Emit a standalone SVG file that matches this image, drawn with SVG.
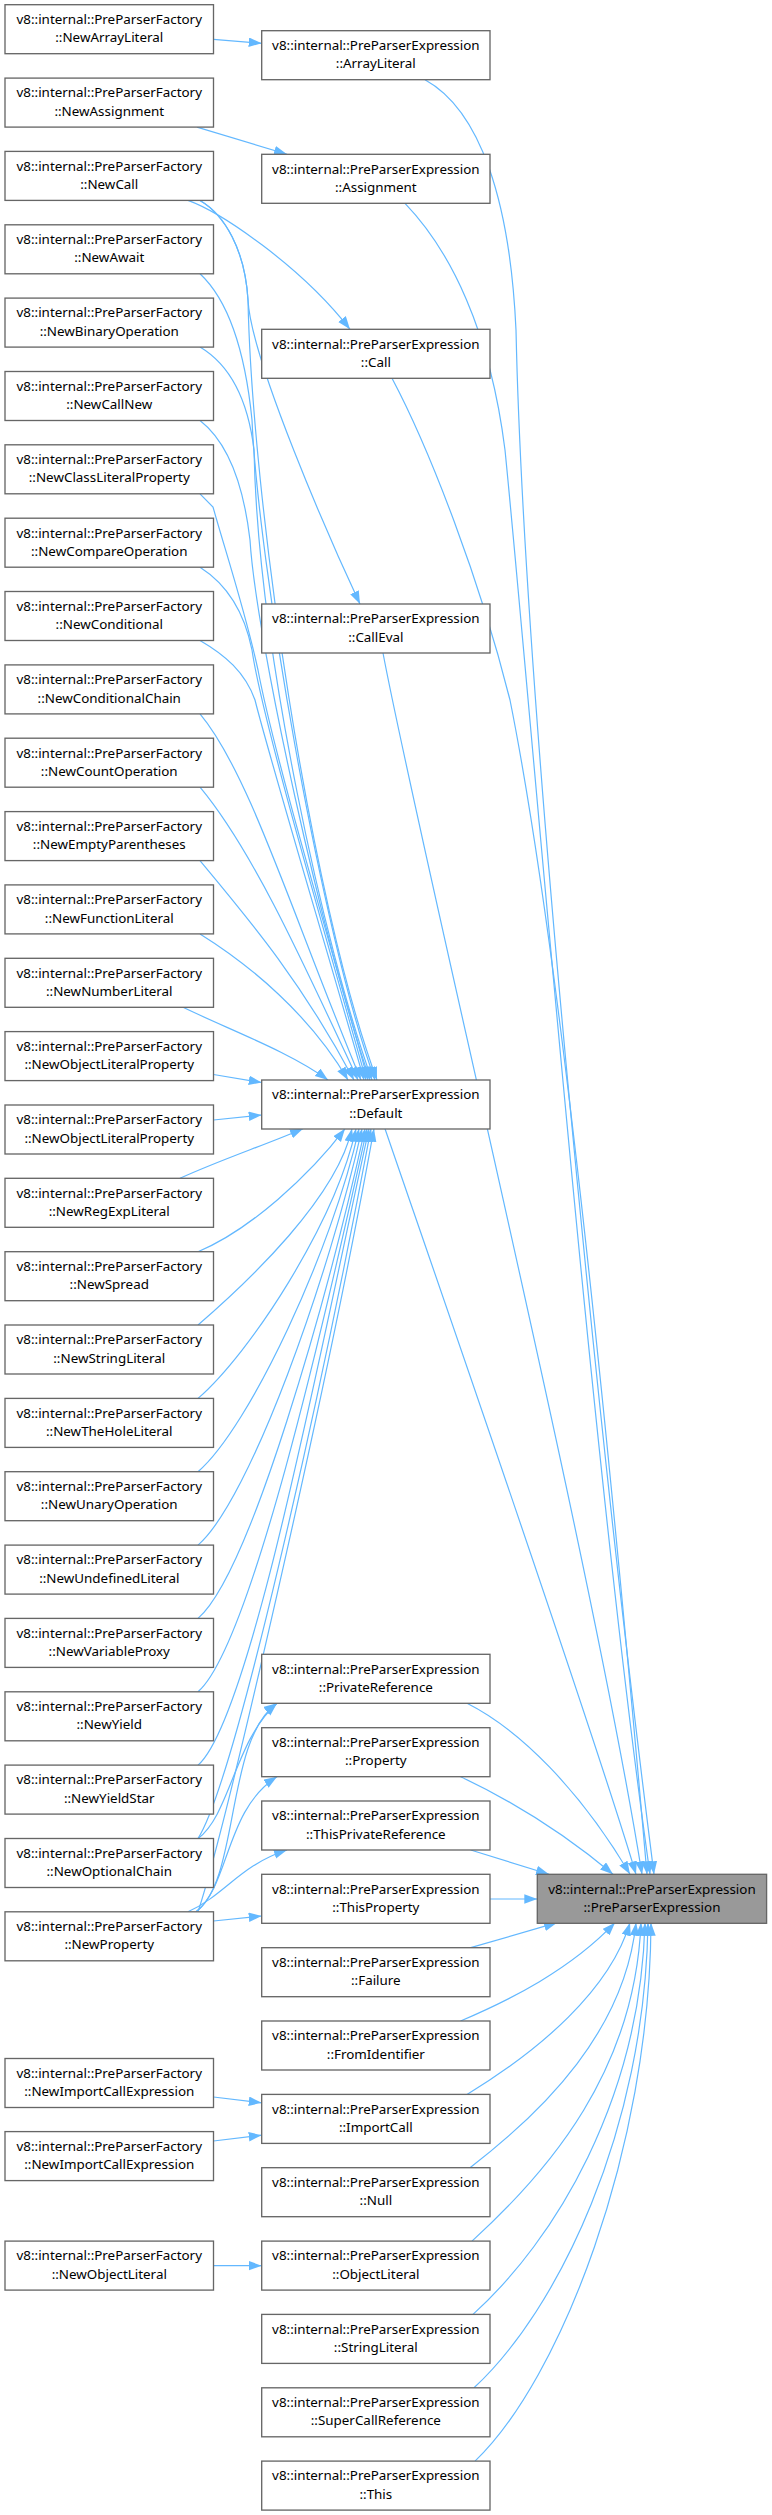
<svg xmlns="http://www.w3.org/2000/svg" width="772" height="2515" viewBox="0 0 772 2515">
<style>
.n rect{fill:#ffffff;stroke:#666666;stroke-width:1.33}
.n.tg rect{fill:#999999}
.t{font-family:"Noto Sans","Open Sans",sans-serif;font-size:13.4px;text-anchor:middle;fill:#000000}
.e path{fill:none;stroke:#63b8ff;stroke-width:1.2;marker-end:url(#ah)}
</style>
<defs>
<marker id="ah" markerWidth="14" markerHeight="10" refX="13" refY="4.75" orient="auto" markerUnits="userSpaceOnUse">
<path d="M0,0 L13,4.75 L0,9.5 z" fill="#63b8ff"/>
</marker>
</defs>
<rect width="772" height="2515" fill="#ffffff"/>
<g id="edges" class="e">
<path d="M213.5,39.3 L261.7,43.3"/>
<path d="M197,127.1 L287,154.3"/>
<path d="M188,200.4 C220,212 300,265 350,329.3"/>
<path d="M200,200.4 C225,215 245,250 248,300 C251,360 330,540 360,604"/>
<path d="M200,200.4 C225,215 245,250 248,300 C252,500 310,900 377,1080"/>
<path d="M200,273.8 C228,300 245,350 252,420 C258,560 320,930 375,1080"/>
<path d="M200,347.1 C230,365 248,400 254,450 C258,650 325,950 372,1080"/>
<path d="M200,420.5 C225,440 243,480 250,540 C256,640 325,950 370,1080"/>
<path d="M200,493.8 L213,507 C225,550 245,610 258,670 C275,760 335,960 368,1080"/>
<path d="M200,567.2 C228,585 245,615 252,650 C262,720 330,950 366,1080"/>
<path d="M200,640.5 C225,655 245,672 255,700 C270,760 330,960 364,1080"/>
<path d="M200,713.9 C250,773.9 292.3,915.3 361,1080"/>
<path d="M200,787.2 C250,847.2 296.8,948.2 358,1080"/>
<path d="M200,860.6 C250,920.6 301.4,981.3 354,1080"/>
<path d="M200,933.9 C250,965 310,1015 348,1080"/>
<path d="M183,1007.3 C230,1030 290,1052 328,1080"/>
<path d="M213.5,1074.5 L261.7,1082.5"/>
<path d="M213.5,1120 L261.7,1115"/>
<path d="M180,1178.3 C220,1160 265,1145 303,1128.7"/>
<path d="M198,1251.7 C250,1230 310,1175 345,1128.7"/>
<path d="M198,1325 C250,1280 336.9,1197.4 352,1128.7"/>
<path d="M198,1398.4 C250,1353.4 335.2,1223.1 356,1128.7"/>
<path d="M198,1471.7 C250,1426.7 332.6,1248.7 359,1128.7"/>
<path d="M198,1545.1 C250,1500.1 329.9,1274.4 362,1128.7"/>
<path d="M198,1618.4 C250,1573.4 327.3,1300.1 365,1128.7"/>
<path d="M198,1691.8 C250,1646.8 323.6,1325.8 367,1128.7"/>
<path d="M198,1765.1 C250,1720.1 320,1351.4 369,1128.7"/>
<path d="M198,1838.5 C235,1780 320,1400 371,1128.7"/>
<path d="M198,1911.8 C225,1830 325,1400 374,1128.7"/>
<path d="M198,1838.5 C230,1815 235,1740 277,1703.3"/>
<path d="M196,1911.8 C240,1880 225,1740 277,1703.3"/>
<path d="M196,1911.8 C230,1885 225,1810 277,1776.7"/>
<path d="M188,1911.8 C225,1895 240,1865 287,1850"/>
<path d="M213.5,1921 L261.7,1916"/>
<path d="M213.5,2097 L261.7,2102.8"/>
<path d="M213.5,2141 L261.7,2135.2"/>
<path d="M213.5,2265.7 L261.7,2265.7"/>
<path d="M425,79.7 C480,110 510,200 516,330 C524,700 600,1450 654,1874.3"/>
<path d="M405,203.3 C450,250 490,330 505,450 C530,700 590,1450 650,1874.3"/>
<path d="M392,378.3 C430,450 480,580 510,700 C560,950 610,1450 647,1874.3"/>
<path d="M383,653 C420,850 590,1550 642,1874.3"/>
<path d="M385,1128.7 C430,1260 590,1720 636,1874.3"/>
<path d="M467,1703.3 C520,1730 580,1790 630,1874.3"/>
<path d="M460.6,1776.7 C510,1800 560,1830 613,1874.3"/>
<path d="M470.7,1850 L549,1874.3"/>
<path d="M490,1899 L537.3,1899"/>
<path d="M470.7,1947.7 L557,1922.7"/>
<path d="M460.6,2021 C510,2000 570,1970 615,1922.7"/>
<path d="M467,2094.4 C540,2050 610,1990 630,1922.7"/>
<path d="M470,2167.7 C545,2110 625,2030 636,1922.7"/>
<path d="M472,2241.1 C550,2170 635,2070 641,1922.7"/>
<path d="M473,2314.4 C555,2240 640,2100 645,1922.7"/>
<path d="M474,2387.8 C558,2310 645,2130 648,1922.7"/>
<path d="M475,2461.1 C560,2380 650,2150 651,1922.7"/>
</g>
<g id="f_NewArrayLiteral" class="n"><rect x="5" y="4.7" width="208.5" height="49"/><text class="t" x="109.25" y="24">v8::internal::PreParserFactory<tspan x="109.25" dy="18.3">::NewArrayLiteral</tspan></text></g>
<g id="f_NewAssignment" class="n"><rect x="5" y="78.1" width="208.5" height="49"/><text class="t" x="109.25" y="97.4">v8::internal::PreParserFactory<tspan x="109.25" dy="18.3">::NewAssignment</tspan></text></g>
<g id="f_NewCall" class="n"><rect x="5" y="151.4" width="208.5" height="49"/><text class="t" x="109.25" y="170.7">v8::internal::PreParserFactory<tspan x="109.25" dy="18.3">::NewCall</tspan></text></g>
<g id="f_NewAwait" class="n"><rect x="5" y="224.8" width="208.5" height="49"/><text class="t" x="109.25" y="244.1">v8::internal::PreParserFactory<tspan x="109.25" dy="18.3">::NewAwait</tspan></text></g>
<g id="f_NewBinaryOperation" class="n"><rect x="5" y="298.1" width="208.5" height="49"/><text class="t" x="109.25" y="317.4">v8::internal::PreParserFactory<tspan x="109.25" dy="18.3">::NewBinaryOperation</tspan></text></g>
<g id="f_NewCallNew" class="n"><rect x="5" y="371.5" width="208.5" height="49"/><text class="t" x="109.25" y="390.8">v8::internal::PreParserFactory<tspan x="109.25" dy="18.3">::NewCallNew</tspan></text></g>
<g id="f_NewClassLiteralProperty" class="n"><rect x="5" y="444.8" width="208.5" height="49"/><text class="t" x="109.25" y="464.1">v8::internal::PreParserFactory<tspan x="109.25" dy="18.3">::NewClassLiteralProperty</tspan></text></g>
<g id="f_NewCompareOperation" class="n"><rect x="5" y="518.2" width="208.5" height="49"/><text class="t" x="109.25" y="537.5">v8::internal::PreParserFactory<tspan x="109.25" dy="18.3">::NewCompareOperation</tspan></text></g>
<g id="f_NewConditional" class="n"><rect x="5" y="591.5" width="208.5" height="49"/><text class="t" x="109.25" y="610.8">v8::internal::PreParserFactory<tspan x="109.25" dy="18.3">::NewConditional</tspan></text></g>
<g id="f_NewConditionalChain" class="n"><rect x="5" y="664.9" width="208.5" height="49"/><text class="t" x="109.25" y="684.2">v8::internal::PreParserFactory<tspan x="109.25" dy="18.3">::NewConditionalChain</tspan></text></g>
<g id="f_NewCountOperation" class="n"><rect x="5" y="738.2" width="208.5" height="49"/><text class="t" x="109.25" y="757.5">v8::internal::PreParserFactory<tspan x="109.25" dy="18.3">::NewCountOperation</tspan></text></g>
<g id="f_NewEmptyParentheses" class="n"><rect x="5" y="811.6" width="208.5" height="49"/><text class="t" x="109.25" y="830.9">v8::internal::PreParserFactory<tspan x="109.25" dy="18.3">::NewEmptyParentheses</tspan></text></g>
<g id="f_NewFunctionLiteral" class="n"><rect x="5" y="884.9" width="208.5" height="49"/><text class="t" x="109.25" y="904.2">v8::internal::PreParserFactory<tspan x="109.25" dy="18.3">::NewFunctionLiteral</tspan></text></g>
<g id="f_NewNumberLiteral" class="n"><rect x="5" y="958.3" width="208.5" height="49"/><text class="t" x="109.25" y="977.6">v8::internal::PreParserFactory<tspan x="109.25" dy="18.3">::NewNumberLiteral</tspan></text></g>
<g id="f_NewObjectLiteralProperty1" class="n"><rect x="5" y="1031.6" width="208.5" height="49"/><text class="t" x="109.25" y="1050.9">v8::internal::PreParserFactory<tspan x="109.25" dy="18.3">::NewObjectLiteralProperty</tspan></text></g>
<g id="f_NewObjectLiteralProperty2" class="n"><rect x="5" y="1105" width="208.5" height="49"/><text class="t" x="109.25" y="1124.3">v8::internal::PreParserFactory<tspan x="109.25" dy="18.3">::NewObjectLiteralProperty</tspan></text></g>
<g id="f_NewRegExpLiteral" class="n"><rect x="5" y="1178.3" width="208.5" height="49"/><text class="t" x="109.25" y="1197.6">v8::internal::PreParserFactory<tspan x="109.25" dy="18.3">::NewRegExpLiteral</tspan></text></g>
<g id="f_NewSpread" class="n"><rect x="5" y="1251.7" width="208.5" height="49"/><text class="t" x="109.25" y="1271">v8::internal::PreParserFactory<tspan x="109.25" dy="18.3">::NewSpread</tspan></text></g>
<g id="f_NewStringLiteral" class="n"><rect x="5" y="1325" width="208.5" height="49"/><text class="t" x="109.25" y="1344.3">v8::internal::PreParserFactory<tspan x="109.25" dy="18.3">::NewStringLiteral</tspan></text></g>
<g id="f_NewTheHoleLiteral" class="n"><rect x="5" y="1398.4" width="208.5" height="49"/><text class="t" x="109.25" y="1417.7">v8::internal::PreParserFactory<tspan x="109.25" dy="18.3">::NewTheHoleLiteral</tspan></text></g>
<g id="f_NewUnaryOperation" class="n"><rect x="5" y="1471.7" width="208.5" height="49"/><text class="t" x="109.25" y="1491">v8::internal::PreParserFactory<tspan x="109.25" dy="18.3">::NewUnaryOperation</tspan></text></g>
<g id="f_NewUndefinedLiteral" class="n"><rect x="5" y="1545.1" width="208.5" height="49"/><text class="t" x="109.25" y="1564.4">v8::internal::PreParserFactory<tspan x="109.25" dy="18.3">::NewUndefinedLiteral</tspan></text></g>
<g id="f_NewVariableProxy" class="n"><rect x="5" y="1618.4" width="208.5" height="49"/><text class="t" x="109.25" y="1637.7">v8::internal::PreParserFactory<tspan x="109.25" dy="18.3">::NewVariableProxy</tspan></text></g>
<g id="f_NewYield" class="n"><rect x="5" y="1691.8" width="208.5" height="49"/><text class="t" x="109.25" y="1711.1">v8::internal::PreParserFactory<tspan x="109.25" dy="18.3">::NewYield</tspan></text></g>
<g id="f_NewYieldStar" class="n"><rect x="5" y="1765.1" width="208.5" height="49"/><text class="t" x="109.25" y="1784.4">v8::internal::PreParserFactory<tspan x="109.25" dy="18.3">::NewYieldStar</tspan></text></g>
<g id="f_NewOptionalChain" class="n"><rect x="5" y="1838.5" width="208.5" height="49"/><text class="t" x="109.25" y="1857.8">v8::internal::PreParserFactory<tspan x="109.25" dy="18.3">::NewOptionalChain</tspan></text></g>
<g id="f_NewProperty" class="n"><rect x="5" y="1911.8" width="208.5" height="49"/><text class="t" x="109.25" y="1931.1">v8::internal::PreParserFactory<tspan x="109.25" dy="18.3">::NewProperty</tspan></text></g>
<g id="f_NewImportCallExpression1" class="n"><rect x="5" y="2058.5" width="208.5" height="49"/><text class="t" x="109.25" y="2077.8">v8::internal::PreParserFactory<tspan x="109.25" dy="18.3">::NewImportCallExpression</tspan></text></g>
<g id="f_NewImportCallExpression2" class="n"><rect x="5" y="2131.6" width="208.5" height="49"/><text class="t" x="109.25" y="2150.9">v8::internal::PreParserFactory<tspan x="109.25" dy="18.3">::NewImportCallExpression</tspan></text></g>
<g id="f_NewObjectLiteral" class="n"><rect x="5" y="2241.1" width="208.5" height="49"/><text class="t" x="109.25" y="2260.4">v8::internal::PreParserFactory<tspan x="109.25" dy="18.3">::NewObjectLiteral</tspan></text></g>
<g id="e_ArrayLiteral" class="n"><rect x="261.7" y="30.7" width="228.3" height="49"/><text class="t" x="375.85" y="50">v8::internal::PreParserExpression<tspan x="375.85" dy="18.3">::ArrayLiteral</tspan></text></g>
<g id="e_Assignment" class="n"><rect x="261.7" y="154.3" width="228.3" height="49"/><text class="t" x="375.85" y="173.6">v8::internal::PreParserExpression<tspan x="375.85" dy="18.3">::Assignment</tspan></text></g>
<g id="e_Call" class="n"><rect x="261.7" y="329.3" width="228.3" height="49"/><text class="t" x="375.85" y="348.6">v8::internal::PreParserExpression<tspan x="375.85" dy="18.3">::Call</tspan></text></g>
<g id="e_CallEval" class="n"><rect x="261.7" y="604" width="228.3" height="49"/><text class="t" x="375.85" y="623.3">v8::internal::PreParserExpression<tspan x="375.85" dy="18.3">::CallEval</tspan></text></g>
<g id="e_Default" class="n"><rect x="261.7" y="1080" width="228.3" height="49"/><text class="t" x="375.85" y="1099.3">v8::internal::PreParserExpression<tspan x="375.85" dy="18.3">::Default</tspan></text></g>
<g id="e_PrivateReference" class="n"><rect x="261.7" y="1654.3" width="228.3" height="49"/><text class="t" x="375.85" y="1673.6">v8::internal::PreParserExpression<tspan x="375.85" dy="18.3">::PrivateReference</tspan></text></g>
<g id="e_Property" class="n"><rect x="261.7" y="1727.7" width="228.3" height="49"/><text class="t" x="375.85" y="1747">v8::internal::PreParserExpression<tspan x="375.85" dy="18.3">::Property</tspan></text></g>
<g id="e_ThisPrivateReference" class="n"><rect x="261.7" y="1801" width="228.3" height="49"/><text class="t" x="375.85" y="1820.3">v8::internal::PreParserExpression<tspan x="375.85" dy="18.3">::ThisPrivateReference</tspan></text></g>
<g id="e_ThisProperty" class="n"><rect x="261.7" y="1874.3" width="228.3" height="49"/><text class="t" x="375.85" y="1893.6">v8::internal::PreParserExpression<tspan x="375.85" dy="18.3">::ThisProperty</tspan></text></g>
<g id="e_Failure" class="n"><rect x="261.7" y="1947.7" width="228.3" height="49"/><text class="t" x="375.85" y="1967">v8::internal::PreParserExpression<tspan x="375.85" dy="18.3">::Failure</tspan></text></g>
<g id="e_FromIdentifier" class="n"><rect x="261.7" y="2021" width="228.3" height="49"/><text class="t" x="375.85" y="2040.3">v8::internal::PreParserExpression<tspan x="375.85" dy="18.3">::FromIdentifier</tspan></text></g>
<g id="e_ImportCall" class="n"><rect x="261.7" y="2094.4" width="228.3" height="49"/><text class="t" x="375.85" y="2113.7">v8::internal::PreParserExpression<tspan x="375.85" dy="18.3">::ImportCall</tspan></text></g>
<g id="e_Null" class="n"><rect x="261.7" y="2167.7" width="228.3" height="49"/><text class="t" x="375.85" y="2187">v8::internal::PreParserExpression<tspan x="375.85" dy="18.3">::Null</tspan></text></g>
<g id="e_ObjectLiteral" class="n"><rect x="261.7" y="2241.1" width="228.3" height="49"/><text class="t" x="375.85" y="2260.4">v8::internal::PreParserExpression<tspan x="375.85" dy="18.3">::ObjectLiteral</tspan></text></g>
<g id="e_StringLiteral" class="n"><rect x="261.7" y="2314.4" width="228.3" height="49"/><text class="t" x="375.85" y="2333.7">v8::internal::PreParserExpression<tspan x="375.85" dy="18.3">::StringLiteral</tspan></text></g>
<g id="e_SuperCallReference" class="n"><rect x="261.7" y="2387.8" width="228.3" height="49"/><text class="t" x="375.85" y="2407.1">v8::internal::PreParserExpression<tspan x="375.85" dy="18.3">::SuperCallReference</tspan></text></g>
<g id="e_This" class="n"><rect x="261.7" y="2461.1" width="228.3" height="49"/><text class="t" x="375.85" y="2480.4">v8::internal::PreParserExpression<tspan x="375.85" dy="18.3">::This</tspan></text></g>
<g id="e_PreParserExpression" class="n tg"><rect x="537.3" y="1874.3" width="229.3" height="49"/><text class="t" x="651.95" y="1893.6">v8::internal::PreParserExpression<tspan x="651.95" dy="18.3">::PreParserExpression</tspan></text></g>
</svg>
